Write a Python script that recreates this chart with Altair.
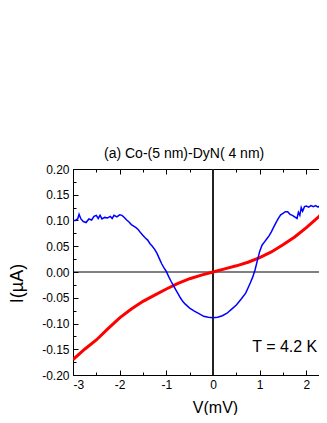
import altair as alt
import pandas as pd

# ---- data ----
blue_v = [-3.00, -2.95, -2.90, -2.87, -2.83, -2.78, -2.72, -2.66, -2.60, -2.55, -2.50, -2.46,
          -2.42, -2.38, -2.32, -2.26, -2.20, -2.16, -2.12, -2.06, -2.00, -1.95, -1.90, -1.85,
          -1.80, -1.75, -1.70, -1.65, -1.60, -1.55, -1.50, -1.45, -1.40, -1.35, -1.30, -1.25,
          -1.20, -1.15, -1.10, -1.05, -1.00, -0.95, -0.90, -0.85, -0.80, -0.75, -0.70, -0.65,
          -0.60, -0.50, -0.40, -0.30, -0.20, -0.10, 0.00, 0.10, 0.20, 0.30, 0.40, 0.50, 0.60,
          0.70, 0.75, 0.80, 0.85, 0.90, 0.95, 1.00, 1.05, 1.10, 1.15, 1.20, 1.25, 1.30, 1.35,
          1.40, 1.45, 1.50, 1.55, 1.60, 1.65, 1.70, 1.75, 1.80, 1.83, 1.86, 1.89, 1.92, 1.96,
          2.00, 2.05, 2.10, 2.15, 2.20, 2.25, 2.30, 2.35, 2.40, 2.45, 2.50]
blue_i = [0.100, 0.100, 0.103, 0.112, 0.103, 0.098, 0.096, 0.103, 0.101, 0.108, 0.110, 0.104,
          0.110, 0.103, 0.106, 0.105, 0.108, 0.104, 0.110, 0.107, 0.111, 0.110, 0.106, 0.101,
          0.097, 0.092, 0.089, 0.086, 0.082, 0.076, 0.071, 0.066, 0.062, 0.055, 0.050, 0.044,
          0.036, 0.026, 0.016, 0.008, 0.001, -0.009, -0.018, -0.026, -0.034, -0.042, -0.050, -0.057,
          -0.062, -0.070, -0.076, -0.081, -0.086, -0.088, -0.089, -0.088, -0.085, -0.080, -0.072, -0.064,
          -0.053, -0.041, -0.031, -0.021, -0.010, 0.004, 0.022, 0.040, 0.052, 0.058, 0.064, 0.070,
          0.078, 0.087, 0.096, 0.104, 0.111, 0.114, 0.117, 0.117, 0.112, 0.110, 0.107, 0.104,
          0.116, 0.110, 0.125, 0.118, 0.127, 0.128, 0.126, 0.129, 0.127, 0.129, 0.126, 0.129,
          0.127, 0.130, 0.128, 0.130]

red_v = [-3.00, -2.75, -2.50, -2.25, -2.00, -1.75, -1.50, -1.25, -1.00, -0.75, -0.50, -0.25,
         0.00, 0.25, 0.50, 0.75, 1.00, 1.25, 1.50, 1.75, 2.00, 2.25, 2.50]
red_i = [-0.170, -0.150, -0.132, -0.110, -0.089, -0.072, -0.057, -0.045, -0.033, -0.022, -0.013, -0.006,
         0.000, 0.006, 0.012, 0.019, 0.028, 0.039, 0.053, 0.068, 0.086, 0.106, 0.130]

x_labels = [-3, -2, -1, 0, 1, 2]
x_ticks = [-3, -2.5, -2, -1.5, -1, -0.5, 0, 0.5, 1, 1.5, 2]
y_labels = [-0.20, -0.15, -0.10, -0.05, 0.00, 0.05, 0.10, 0.15, 0.20]
y_ticks = [round(-0.2 + 0.025 * k, 3) for k in range(17)]

title_text = "(a) Co-(5 nm)-DyN( 4 nm)"
note_text = "T = 4.2 K"
note_v, note_i = 0.84, -0.145

FONT = "Liberation Sans"
W, H = 246, 206
X_DOMAIN = [-3, 2.271]
Y_DOMAIN = [-0.2, 0.2]

blue_df = pd.DataFrame({"V": blue_v, "I": blue_i})
red_df = pd.DataFrame({"V": red_v, "I": red_i})

xs = alt.Scale(domain=X_DOMAIN, nice=False, zero=False)
ys = alt.Scale(domain=Y_DOMAIN, nice=False, zero=False)

x_major = {"condition": {"test": "abs(datum.value - round(datum.value)) < 0.01", "value": 5}, "value": 3}
y_major = {"condition": {"test": "abs(datum.value*20 - round(datum.value*20)) < 0.01", "value": 5}, "value": 3}

x_lab_axis = alt.Axis(orient="bottom", values=x_labels, ticks=False, grid=False, domain=True,
                      domainColor="black", labelFont=FONT, labelFontSize=12, labelColor="black",
                      labelPadding=4,
                      labelExpr="(datum.value < 0 ? '-' : '') + format(abs(datum.value), 'd')",
                      title="V(mV)", titleFont=FONT, titleFontSize=16, titleFontWeight="normal",
                      titleColor="black", titleX=142, titleY=32, titleBaseline="middle",
                      titleAlign="center")
y_lab_axis = alt.Axis(orient="left", values=y_labels, ticks=False, grid=False, domain=True,
                      domainColor="black", labelFont=FONT, labelFontSize=12, labelColor="black",
                      labelPadding=4,
                      labelExpr="(datum.value < -0.000001 ? '-' : '') + format(abs(datum.value), '.2f')",
                      title="I(µA)", titleFont=FONT, titleFontSize=18, titleFontWeight="normal",
                      titleColor="black", titleX=-56, titleY=114, titleAngle=-90,
                      titleBaseline="middle", titleAlign="center")

x_tick_bottom = alt.Axis(orient="top", offset=-H, values=x_ticks, labels=False, domain=False,
                         grid=False, title=None, tickColor="black", tickSize=x_major)
y_tick_left = alt.Axis(orient="right", offset=-W, values=y_ticks, labels=False, domain=False,
                       grid=False, title=None, tickColor="black", tickSize=y_major)
x_tick_top = alt.Axis(orient="bottom", offset=-H, values=x_ticks, labels=False, domain=True,
                      domainColor="black", grid=False, title=None, tickColor="black",
                      tickSize=x_major)

blue = alt.Chart(blue_df).mark_line(color="#0000ff", strokeWidth=1.5, clip=True).encode(
    x=alt.X("V:Q", scale=xs, axis=x_lab_axis),
    y=alt.Y("I:Q", scale=ys, axis=y_lab_axis),
)
red = alt.Chart(red_df).mark_line(color="#ff0000", strokeWidth=3, clip=True).encode(
    x=alt.X("V:Q", scale=xs, axis=x_tick_bottom),
    y=alt.Y("I:Q", scale=ys, axis=y_tick_left),
)
hzero = alt.Chart(red_df).mark_rule(color="black", strokeWidth=1, clip=True).encode(
    x=alt.X("min(V):Q", scale=xs, axis=x_tick_top),
    x2=alt.value(W),
    y=alt.datum(0, scale=ys, axis=None),
)
vzero = alt.Chart(red_df).mark_rule(color="#222222", strokeWidth=1).encode(
    x=alt.datum(0, scale=xs, axis=None),
    y=alt.value(0),
    y2=alt.value(H),
)
note = alt.Chart(red_df).mark_text(align="left", baseline="middle", font=FONT, fontSize=16,
                                   color="black").encode(
    x=alt.datum(note_v, scale=xs, axis=None),
    y=alt.datum(note_i, scale=ys, axis=None),
)
note = note.transform_aggregate(n="count()").encode(text=alt.value(note_text))

chart = alt.layer(hzero, vzero, red, blue, note).resolve_axis(
    x="independent", y="independent"
).properties(
    width=W, height=H,
    title=alt.TitleParams(title_text, font=FONT, fontSize=14, fontWeight="normal", color="black",
                          anchor="start", frame="group", dx=31, offset=2),
    autosize=alt.AutoSizeParams(type="none"),
    padding={"left": 65, "top": 161, "right": 0, "bottom": 40},
).configure_view(stroke=None)

chart.save("out.html", embed_options={"renderer": "svg", "actions": False})
